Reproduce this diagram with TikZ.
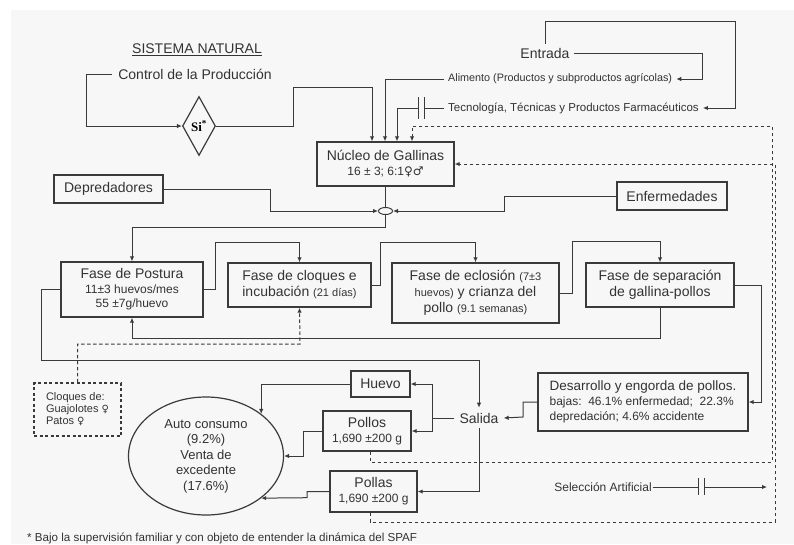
\documentclass[tikz,border=0pt]{standalone}
\usepackage{fontspec}
\setmainfont{Liberation Sans}
\newfontfamily\symf{DejaVu Sans}
\newfontfamily\serifb{Liberation Serif}
\usetikzlibrary{shapes.geometric,arrows.meta}
\definecolor{lc}{HTML}{3A3A3A}
\definecolor{tc}{HTML}{333333}
\definecolor{bgc}{HTML}{F7F7F7}
\newcommand\fbig{\fontsize{14}{16}\selectfont}
\newcommand\fmid{\fontsize{12}{15}\selectfont}
\newcommand\fsm{\fontsize{11}{14}\selectfont}
\newcommand\ftiny{\fontsize{10.8}{13}\selectfont}
\begin{document}
\begin{tikzpicture}[x=1pt,y=-1pt,
  box/.style={draw=lc, line width=1.4pt, inner sep=0pt, align=center, text=tc, font=\fbig},
  lbl/.style={inner sep=2pt, text=tc, font=\fbig},
  ln/.style={draw=lc, line width=1pt},
  arr/.style={ln, -{Latex[length=5pt,width=4.5pt]}},
  dsh/.style={ln, dash pattern=on 3.5pt off 2.5pt},
  darr/.style={dsh, -{Latex[length=5pt,width=4.5pt]}}]
\useasboundingbox (0,0) rectangle (794,544);
\fill[bgc] (11,10) rectangle (794,544);

% texts
\node[lbl] (title) at (197,50) {\underline{SISTEMA NATURAL}};
\node[lbl, inner sep=6pt] (ctrl) at (195,74) {Control de la Producción};
\node[draw=lc, line width=1.2pt, diamond, minimum width=33pt, minimum height=59pt, inner sep=0pt] (si) at (199,126) {\serifb\bfseries\fontsize{13}{15}\selectfont Si\textsuperscript{*}};
\node[lbl, inner sep=4pt] (entrada) at (545,53) {Entrada};
\node[lbl, anchor=west, font=\ftiny, inner sep=4pt] (alim) at (444,79) {Alimento (Productos y subproductos agrícolas)};
\node[lbl, anchor=west, font=\fontsize{11.5}{14}\selectfont, inner sep=4pt] (tecno) at (444,108) {Tecnología, Técnicas y Productos Farmacéuticos};

% boxes
\node[box, minimum width=137pt, minimum height=44pt] (nucleo) at (385.5,164) {Núcleo de Gallinas\\[-1pt]{\fmid 16 ± 3; 6:1{\symf\bfseries ♀♂}}};
\node[draw=lc, line width=1pt, ellipse, minimum width=14pt, minimum height=7pt, inner sep=0pt] (j) at (385.5,211) {};
\node[box, minimum width=109pt, minimum height=28pt] (depre) at (108.5,189) {Depredadores};
\node[box, minimum width=110pt, minimum height=28pt] (enf) at (672,196) {Enfermedades};
\node[box, minimum width=142pt, minimum height=55pt] (postura) at (132,289.5) {Fase de Postura\\[-1pt]{\fmid 11±3 huevos/mes}\\[-2pt]{\fmid 55 ±7g/huevo}};
\node[box, minimum width=143pt, minimum height=44pt] (cloques) at (299.5,285) {Fase de cloques e\\incubación {\fsm(21 días)}};
\node[box, minimum width=167pt, minimum height=60pt] (eclosion) at (475.5,293) {Fase de eclosión {\fsm(7±3}\\{\fsm huevos)} y crianza del\\pollo {\fsm(9.1 semanas)}};
\node[box, minimum width=148pt, minimum height=44pt] (separ) at (660,285) {Fase de separación\\de gallina-pollos};
\node[box, dash pattern=on 3pt off 2.5pt, minimum width=87pt, minimum height=53pt, align=left, font=\fsm] (cloqdeb) at (77.5,409.5) {Cloques de:\\[-2pt]Guajolotes {\symf\fontsize{10}{12}\selectfont ♀}\\[-2pt]Patos {\symf\fontsize{10}{12}\selectfont ♀}};
\node[box, minimum width=210pt, minimum height=58pt, align=left, font=\fontsize{13.5}{16}\selectfont] (desarrollo) at (643,402) {Desarrollo y engorda de pollos.\\[-1pt]{\fmid bajas:\ \ 46.1\% enfermedad;\ \ 22.3\%}\\[-1pt]{\fmid depredación; 4.6\% accidente}};
\node[lbl, inner sep=5pt] (salida) at (479,418) {Salida};
\node[box, minimum width=59pt, minimum height=26pt] (huevo) at (380.5,384) {Huevo};
\node[box, minimum width=88pt, minimum height=40pt] (pollos) at (367,431) {Pollos\\[-1pt]{\fmid 1,690 ±200 g}};
\node[box, minimum width=87pt, minimum height=41pt] (pollas) at (373.5,491.5) {Pollas\\[-1pt]{\fmid 1,690 ±200 g}};
\node[draw=lc, line width=1.2pt, ellipse, minimum width=155pt, minimum height=118pt, inner sep=0pt, align=center, text=tc, font=\fontsize{13}{15.5}\selectfont] (consumo) at (206,456) {Auto consumo\\(9.2\%)\\Venta de\\excedente\\(17.6\%)};
\node[lbl, font=\fmid, inner sep=1pt] (selec) at (603,487) {Selección Artificial};
\node[lbl, anchor=west, font=\fontsize{11.6}{14}\selectfont, inner sep=0pt] (foot) at (27,538) {* Bajo la supervisión familiar y con objeto de entender la dinámica del SPAF};

% control loop
\draw[arr] (ctrl.west) -| (86,126) -- (si.west);
\draw[arr] (si.east) -| (293,87) -| ([xshift=-13.5pt]nucleo.north);
% inputs
\draw[arr] (alim.west) -| ([xshift=-0.5pt]nucleo.north);
\draw[ln] (tecno.west) -- (424,108);
\draw[ln] (424,97) -- (424,119);
\draw[ln] (418,97) -- (418,119);
\draw[arr] (418,108) -| ([xshift=11.5pt]nucleo.north);
\draw[arr] (entrada.east) -| (702,79) -- (alim.east);
\draw[arr] (entrada.north) |- (735,21) |- (tecno.east);
% junction
\draw[ln] (nucleo.south) -- (j.north);
\draw[arr] (depre.east) -| (270,211) -- (j.west);
\draw[arr] (enf.west) -| (504,211) -- (j.east);
\draw[arr] (j.south) -- ++(0,12) -| (postura.north);
% phases
\draw[arr] (postura.east) -| (215,242) -| (cloques.north);
\draw[arr] (cloques.east) -| (380,242) -| (eclosion.north);
\draw[arr] (eclosion.east) -| (572,241) -| (separ.north);
\draw[arr] (separ.south) -- ++(0,31) -| (postura.south);
\draw[darr] (cloqdeb.north) |- (300,344) -- (cloques.south);
\draw[arr] (separ.east) -| (761,402) -- (desarrollo.east);
% outputs
\draw[arr] (postura.west) -| (41,360) -| (salida.north);
\draw[arr] (desarrollo.west) -| (523,417) -- (salida.east);
\draw[arr] (salida.west) -| (432,384) -- (huevo.east);
\draw[arr] (432,417) |- (pollos.east);
\draw[arr] (salida.south) |- (pollas.east);
\draw[arr] (huevo.west) -| (consumo.north east);
\draw[arr] (pollos.west) -| (303,456) -- (consumo.east);
\draw[arr] (pollas.west) -| (307,497.7) -- (consumo.south east);
% feedback dashed loops
\draw[darr] ([xshift=3pt]pollos.south) |- (772,462) |- (412,126) -- ([xshift=26.5pt]nucleo.north);
\draw[darr] ([xshift=-3.5pt]pollas.south) |- (775,522) |- (nucleo.east);
% artificial selection
\coordinate (selend) at (767,487);
\draw[ln] (selec.east) -- (698,487);
\draw[ln] (698,478) -- (698,495);
\draw[ln] (704,478) -- (704,495);
\draw[arr] (704,487) -- (selend);
\end{tikzpicture}
\end{document}
